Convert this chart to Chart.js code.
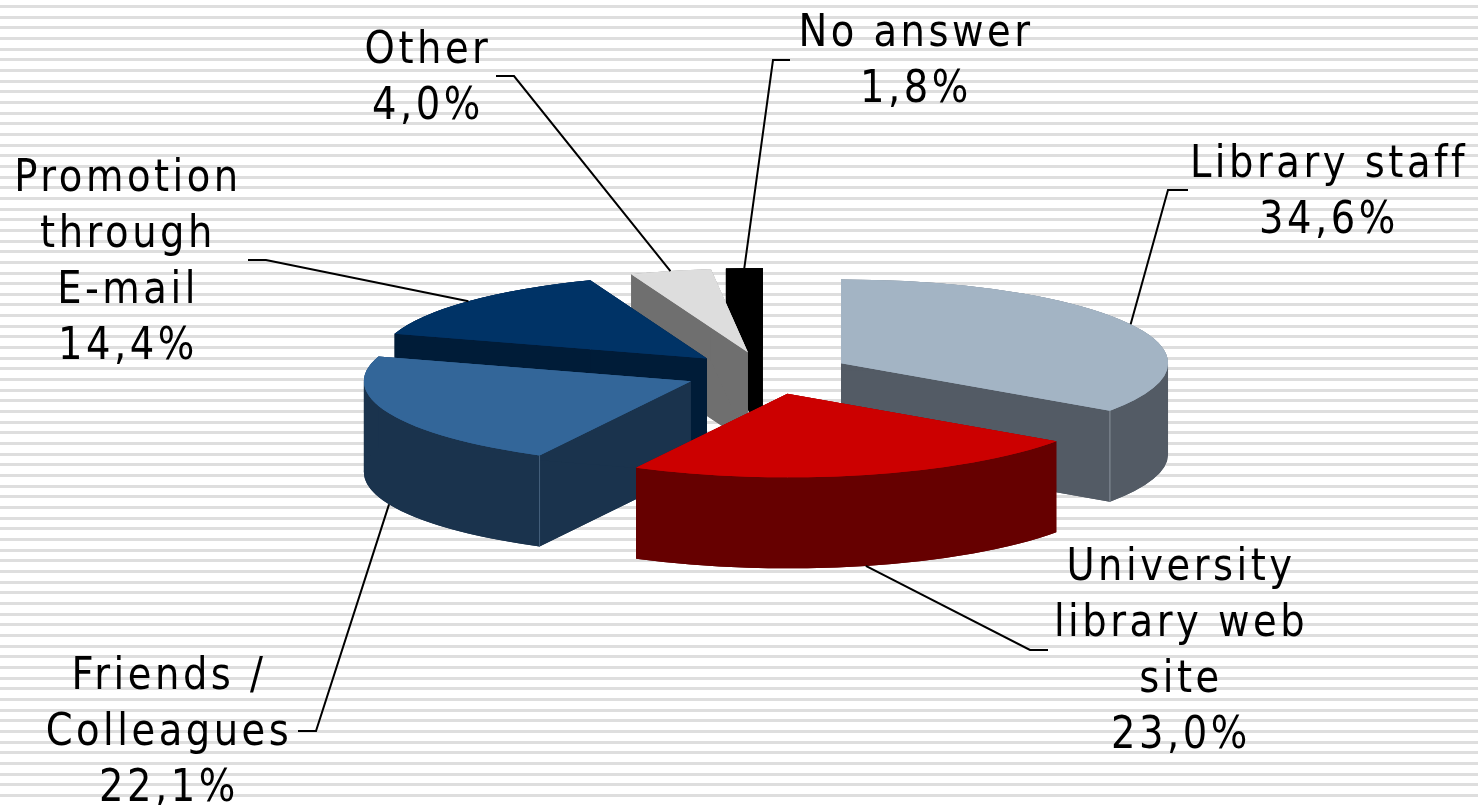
<!DOCTYPE html>
<html>
<head>
<meta charset="utf-8">
<title>Library sources</title>
<script src="https://cdn.jsdelivr.net/npm/chart.js@4"></script>
<style>
  html, body { margin: 0; padding: 0; }
  body {
    width: 1478px; height: 805px; overflow: hidden;
    background: repeating-linear-gradient(#fff 0 5px, #dedede 5px 8px, #fff 8px 10.66px);
  }
  canvas { display: block; }
</style>
</head>
<body>
<canvas id="myChart" width="1478" height="805"></canvas>
<script>
const categories = ['Library staff', 'University library web site', 'Friends / Colleagues', 'Promotion through E-mail', 'Other', 'No answer'];
const values = [34.6, 23.0, 22.1, 14.4, 4.0, 1.8];
const labelLines = [['Library staff'], ['University', 'library web', 'site'], ['Friends /', 'Colleagues'], ['Promotion', 'through', 'E-mail'], ['Other'], ['No answer']];
const topColors = ['#a3b4c4', '#cc0000', '#336699', '#003366', '#dddddd', '#000000'];
const sideColors = ['#535b65', '#660000', '#1a334d', '#001c38', '#6f6f6f', '#000000'];

// label layout: centre x, first baseline, elbow of the leader line
const labelX = [1329, 1181, 169, 128, 428, 916];
const labelY = [177, 580, 689, 191, 63, 46];
const elbows = [[[1188, 190], [1168, 190]], [[1048, 650], [1030, 650]], [[298, 731], [316, 731]], [[248, 260], [266, 260]], [[496, 76], [514, 76]], [[790, 60], [773, 60]]];

const squash = 0.256;
const depth = 91;
const drawOrder = [5, 4, 3, 0, 2, 1]; // back to front

function apex(el, offset) {
  const mid = (el.startAngle + el.endAngle) / 2;
  return { x: el.x + Math.cos(mid) * offset, y: el.y + Math.sin(mid) * offset };
}

function wedge(ctx, el, offset, dy) {
  const p = apex(el, offset);
  ctx.beginPath();
  ctx.moveTo(p.x, p.y + dy);
  ctx.arc(p.x, p.y + dy, el.outerRadius, el.startAngle, el.endAngle);
  ctx.closePath();
  ctx.fill();
}

// sides of a slice: bottom cap, two cut faces, outer wall
function walls(ctx, el, offset, h) {
  const p = apex(el, offset);
  const r = el.outerRadius;
  wedge(ctx, el, offset, h);
  [el.startAngle, el.endAngle].forEach(a => {
    const ex = p.x + Math.cos(a) * r, ey = p.y + Math.sin(a) * r;
    ctx.beginPath();
    ctx.moveTo(p.x, p.y);
    ctx.lineTo(ex, ey);
    ctx.lineTo(ex, ey + h);
    ctx.lineTo(p.x, p.y + h);
    ctx.closePath();
    ctx.fill();
  });
  // split the wall at the left and right extremes so its outline does not cross itself
  const stops = [el.startAngle];
  for (let k = -1; k < 3; k++) {
    if (k * Math.PI > el.startAngle && k * Math.PI < el.endAngle) stops.push(k * Math.PI);
  }
  stops.push(el.endAngle);
  for (let s = 0; s < stops.length - 1; s++) {
    ctx.beginPath();
    ctx.arc(p.x, p.y, r, stops[s], stops[s + 1]);
    ctx.arc(p.x, p.y + h, r, stops[s + 1], stops[s], true);
    ctx.closePath();
    ctx.fill();
  }
}

// thin light line down the front corner of a slice
function ridge(ctx, el, offset, angle, color) {
  const p = apex(el, offset);
  const x = p.x + Math.cos(angle) * el.outerRadius;
  const y = el.y + (p.y - el.y + Math.sin(angle) * el.outerRadius) * squash;
  ctx.strokeStyle = color;
  ctx.lineWidth = 1;
  ctx.beginPath();
  ctx.moveTo(x, y);
  ctx.lineTo(x, y + depth);
  ctx.stroke();
}

const pie3d = {
  id: 'pie3d',
  beforeDatasetsDraw(chart) {
    const ctx = chart.ctx;
    const arcs = chart.getDatasetMeta(0).data;
    const offset = chart.data.datasets[0].offset;
    const cx = arcs[0].x, cy = arcs[0].y;
    drawOrder.forEach(i => {
      ctx.save();
      ctx.translate(cx, cy);
      ctx.scale(1, squash);
      ctx.translate(-cx, -cy);
      ctx.fillStyle = sideColors[i];
      walls(ctx, arcs[i], offset, depth / squash);
      ctx.fillStyle = topColors[i];
      wedge(ctx, arcs[i], offset, 0);
      wedge(ctx, arcs[i], offset, 0);
      ctx.restore();
      if (i === 0) ridge(ctx, arcs[i], offset, arcs[i].endAngle, '#8a939d');
      if (i === 2) ridge(ctx, arcs[i], offset, arcs[i].startAngle, '#46607c');
    });
    return false;
  },
  afterDraw(chart) {
    const ctx = chart.ctx;
    const arcs = chart.getDatasetMeta(0).data;
    const offset = chart.data.datasets[0].offset;
    ctx.save();
    ctx.strokeStyle = '#000';
    ctx.lineWidth = 2;
    arcs.forEach((el, i) => {
      const mid = (el.startAngle + el.endAngle) / 2;
      const r = el.outerRadius + offset;
      const tipX = el.x + Math.cos(mid) * r;
      const tipY = el.y + Math.sin(mid) * r * squash + (Math.sin(mid) > 0 ? depth : 0);
      ctx.beginPath();
      ctx.moveTo(elbows[i][0][0], elbows[i][0][1]);
      ctx.lineTo(elbows[i][1][0], elbows[i][1][1]);
      ctx.lineTo(tipX, tipY);
      ctx.stroke();
    });
    ctx.fillStyle = '#000';
    ctx.font = '44px "DejaVu Sans"';
    ctx.letterSpacing = '4px';
    ctx.textAlign = 'center';
    categories.forEach((c, i) => {
      const lines = labelLines[i].concat(values[i].toFixed(1).replace('.', ',') + '%');
      lines.forEach((t, k) => {
        ctx.save();
        ctx.translate(labelX[i], labelY[i] + k * 56);
        ctx.scale(0.875, 1);
        ctx.fillText(t, 0, 0);
        ctx.restore();
      });
    });
    ctx.restore();
  }
};

new Chart(document.getElementById('myChart').getContext('2d'), {
  type: 'pie',
  data: {
    labels: categories,
    datasets: [{
      data: values,
      backgroundColor: topColors,
      borderWidth: 0,
      offset: 83,
      radius: 327
    }]
  },
  options: {
    responsive: false,
    animation: false,
    layout: { padding: { left: 57, bottom: 59 } },
    plugins: { legend: { display: false }, tooltip: { enabled: false } }
  },
  plugins: [pie3d]
});
</script>
</body>
</html>
